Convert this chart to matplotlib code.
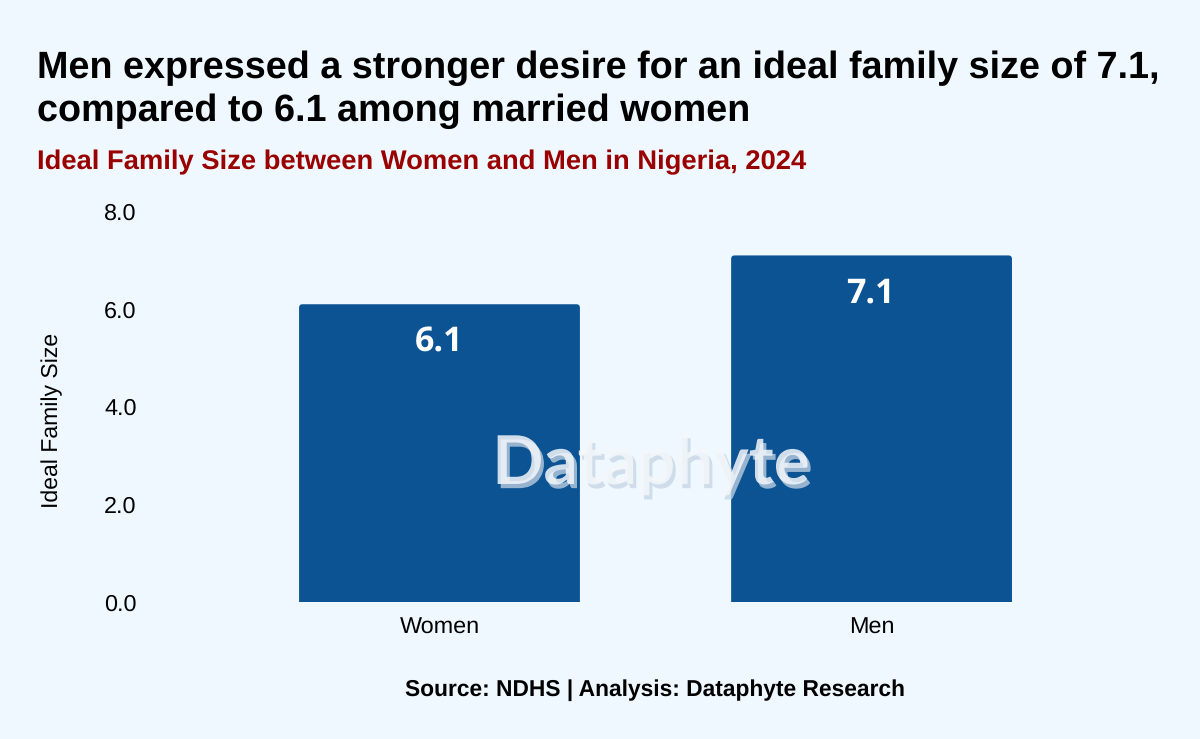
import matplotlib
matplotlib.use("Agg")
import matplotlib.pyplot as plt
import matplotlib.patheffects as pe
from matplotlib.patches import FancyBboxPatch

plt.rcParams["font.family"] = ["Liberation Sans", "DejaVu Sans"]
plt.rcParams["text.hinting"] = "none"

categories = ["Women", "Men"]
values = [6.1, 7.1]
value_labels = ["6.1", "7.1"]
y_ticks = [0, 2, 4, 6, 8]
y_tick_labels = ["0.0", "2.0", "4.0", "6.0", "8.0"]

BG = "#f0f8ff"
BLUE = "#0c5394"
BAR_W = 0.65

W, H = 1200, 739
fig = plt.figure(figsize=(W / 100, H / 100), dpi=100, facecolor=BG)
ax = fig.add_axes([150 / W, 1 - 602 / H, (1050 - 150) / W, (602 - 211.5) / H], facecolor=BG)

xs = list(range(len(categories)))
ax.set_xlim(-0.670, 1.413)
ax.set_ylim(0, 8)
bars = ax.bar(xs, values, width=BAR_W, color=BLUE, linewidth=0)

# small rounded top corners, bottom edge of the clip sits below the axis
for x, v, b in zip(xs, values, bars):
    clip = FancyBboxPatch((x - BAR_W / 2, -0.2), BAR_W, v + 0.2,
                          boxstyle="round,pad=0,rounding_size=0.008",
                          mutation_aspect=9, transform=ax.transData)
    b.set_clip_path(clip)

for x, v, lab in zip(xs, values, value_labels):
    ax.text(x - 0.002, v - 0.78, lab, ha="center", va="center", color="white", fontsize=24.5,
            fontweight="bold", family=["Open Sans", "DejaVu Sans"])

ax.set_xticks(xs)
ax.set_xticklabels(categories, fontsize=16.8)
ax.set_yticks(y_ticks)
ax.set_yticklabels(y_tick_labels, fontsize=16.8)
ax.tick_params(length=0, colors="black")
ax.tick_params(axis="y", pad=9.5)
ax.tick_params(axis="x", pad=11)
for s in ax.spines.values():
    s.set_visible(False)

fig.text(52.5 / W, 1 - 420 / H, "Ideal Family Size", rotation=90, ha="center", va="center", fontsize=16.6)

fig.text(37 / W, 1 - 78 / H, "Men expressed a stronger desire for an ideal family size of 7.1,",
         fontsize=27.2, fontweight="bold", va="baseline", color="black")
fig.text(37 / W, 1 - 121 / H, "compared to 6.1 among married women",
         fontsize=27.2, fontweight="bold", va="baseline", color="black")
fig.text(37 / W, 1 - 169 / H, "Ideal Family Size between Women and Men in Nigeria, 2024",
         fontsize=19.7, fontweight="bold", va="baseline", color="#990000")
fig.text(655 / W, 1 - 696 / H, "Source: NDHS | Analysis: Dataphyte Research",
         fontsize=16.35, fontweight="bold", ha="center", va="baseline", color="black")

# watermark, translucent with an offset shadow
fig.text(651 / W, 1 - 484 / H, "Dataphyte", fontsize=48.5, fontweight="bold", ha="center", va="baseline",
         color="#f4f7fb", alpha=0.85, family=["Lato", "DejaVu Sans"],
         path_effects=[pe.SimplePatchShadow(offset=(2.2, -3), shadow_rgbFace="#c5d5e5", alpha=0.75),
                       pe.Normal()])

fig.savefig("out.png", dpi=100, facecolor=BG)
